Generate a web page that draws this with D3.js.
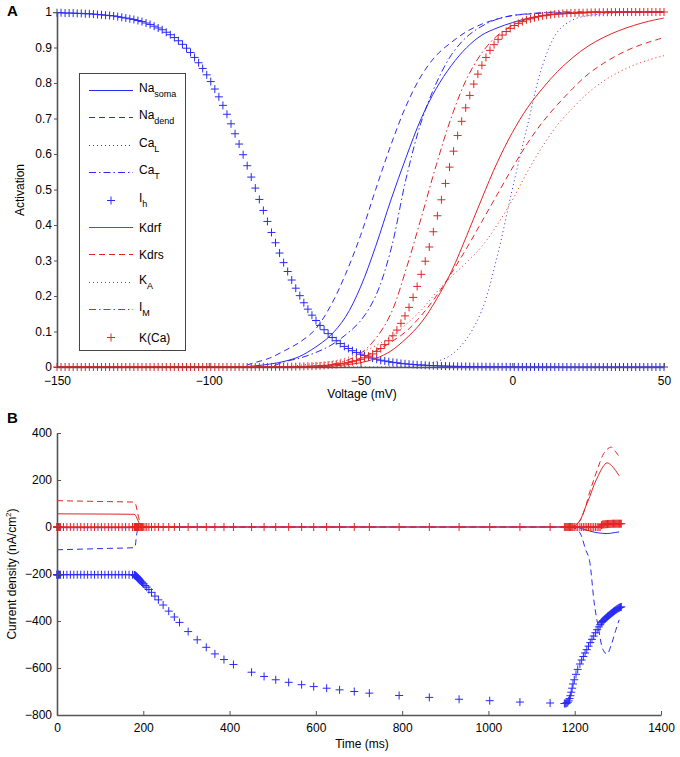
<!DOCTYPE html>
<html><head><meta charset="utf-8">
<script src="https://cdn.jsdelivr.net/npm/d3@7"></script>
<style>body{margin:0;background:#fff}svg{display:block;font-family:"Liberation Sans",Arial,Helvetica,sans-serif}</style>
</head><body><svg id="c" width="680" height="757"></svg>
<script>
// ---------- Panel A data (activation vs voltage) ----------
const voltageLine = [-150,-145,-140,-135,-130,-125,-120,-115,-110,-105,-100,-95,-90,-85,-80,-75,-70,-65,-60,-55,-50,-45,-40,-35,-30,-25,-20,-15,-10,-5,0,5,10,15,20,25,30,35,40,45,50];
const naSomaA = [0,0,0,0,0,0,0,0,0,0,0,0,0,0.003,0.008,0.016,0.03,0.055,0.088,0.14,0.225,0.34,0.47,0.59,0.70,0.785,0.85,0.90,0.935,0.955,0.97,0.982,0.99,0.994,0.996,0.998,0.999,1,1,1,1];
const naDendA = [0,0,0,0,0,0,0,0,0,0,0,0,0,0.012,0.025,0.046,0.07,0.105,0.17,0.26,0.37,0.50,0.625,0.735,0.82,0.878,0.915,0.945,0.966,0.98,0.99,0.994,0.997,0.998,0.999,1,1,1,1,1,1];
const caLA = [0,0,0,0,0,0,0,0,0,0,0,0,0,0,0,0,0,0,0,0,0,0,0,0,0.005,0.015,0.035,0.08,0.16,0.31,0.50,0.68,0.85,0.945,0.978,0.99,0.995,0.998,0.999,1,1];
const caTA = [0,0,0,0,0,0,0,0,0,0,0,0,0,0,0,0.015,0.025,0.04,0.06,0.09,0.13,0.20,0.33,0.53,0.69,0.80,0.88,0.93,0.96,0.98,0.99,0.995,0.998,1,1,1,1,1,1,1,1];
const kdrfA = [0,0,0,0,0,0,0,0,0,0,0,0,0,0,0,0,0,0,0.002,0.006,0.012,0.024,0.045,0.08,0.125,0.19,0.27,0.37,0.475,0.575,0.66,0.73,0.785,0.833,0.872,0.904,0.928,0.947,0.962,0.974,0.983];
const kdrsA = [0,0,0,0,0,0,0,0,0,0,0,0,0,0,0,0,0,0,0.005,0.012,0.025,0.045,0.07,0.10,0.145,0.20,0.265,0.335,0.41,0.485,0.56,0.63,0.69,0.74,0.785,0.825,0.855,0.88,0.90,0.915,0.928];
const kAA = [0,0,0,0,0,0,0,0,0,0,0,0,0,0,0,0,0.005,0.01,0.015,0.025,0.04,0.06,0.085,0.12,0.16,0.21,0.255,0.295,0.34,0.40,0.47,0.55,0.622,0.683,0.73,0.772,0.805,0.83,0.85,0.865,0.877];
const iMA = [0,0,0,0,0,0,0,0,0,0,0,0,0,0,0,0,0,0.003,0.007,0.017,0.038,0.08,0.15,0.275,0.42,0.57,0.705,0.812,0.885,0.933,0.962,0.98,0.99,0.995,0.998,1,1,1,1,1,1];

// marker series sampled on an evenly spaced voltage grid (151 samples, -150..50 mV)
const markerVoltages = d3.range(151).map(i => -150 + i * 200 / 150);
const ihA = [0.998,0.998,0.997,0.997,0.997,0.996,0.996,0.995,0.995,0.994,
 0.993,0.992,0.991,0.990,0.989,0.987,0.985,0.983,0.981,0.979,
 0.976,0.973,0.969,0.965,0.960,0.955,0.950,0.943,0.936,0.928,
 0.919,0.909,0.898,0.886,0.872,0.857,0.841,0.823,0.804,0.783,
 0.761,0.737,0.712,0.685,0.657,0.628,0.598,0.567,0.535,0.504,
 0.472,0.441,0.410,0.379,0.350,0.321,0.294,0.269,0.245,0.222,
 0.201,0.181,0.163,0.146,0.131,0.117,0.105,0.094,0.083,0.074,
 0.066,0.058,0.052,0.046,0.041,0.036,0.032,0.028,0.025,0.022,
 0.019,0.017,0.015,0.013,0.012,0.010,0.009,0.008,0.007,0.006,
 0.0055,0.005,0.004,0.0037,0.0032,0.0028,0.0025,0.0022,0.0019,0.0017,
 0.0015,0.0013,0.0011,0.0010,0.0009,0.0008,0.0007,0.0006,0.0005,0.0005,
 0.0004,0.0004,0.0003,0.0003,0.0003,0.0002,0.0002,0.0002,0.0002,0.0001,
 0.0001,0.0001,0.0001,0.0001,0,0,0,0,0,0,
 0,0,0,0,0,0,0,0,0,0,
 0,0,0,0,0,0,0,0,0,0,0];
const kCaA = [0,0,0,0,0,0,0,0,0,0,
 0,0,0,0,0,0,0,0,0,0,
 0,0,0,0,0,0,0,0,0,0,
 0,0,0,0,0,0,0,0,0,0,
 0,0,0,0,0,0,0,0,0,0,
 0.0002,0.0002,0.0003,0.0003,0.0004,0.0005,0.0006,0.0008,0.0009,0.0011,
 0.0014,0.0016,0.002,0.0024,0.0029,0.0034,0.0041,0.005,0.006,0.0072,
 0.0086,0.0104,0.0124,0.0149,0.0179,0.0215,0.0257,0.0308,0.0368,0.044,
 0.052,0.063,0.074,0.088,0.104,0.123,0.144,0.168,0.196,0.227,
 0.261,0.298,0.338,0.381,0.426,0.471,0.517,0.563,0.608,0.652,
 0.692,0.730,0.765,0.797,0.825,0.850,0.872,0.892,0.908,0.923,
 0.935,0.945,0.954,0.962,0.968,0.973,0.978,0.981,0.984,0.987,
 0.989,0.991,0.9925,0.994,0.995,0.996,0.9965,0.997,0.9975,0.998,
 0.998,0.9985,0.9988,0.999,0.999,0.9993,0.9994,0.9995,0.9996,0.9997,
 0.9997,0.9998,0.9998,0.9998,0.9999,0.9999,0.9999,0.9999,1,1,1];

const voltageTicks = [-150,-100,-50,0,50];
const activationTicks = [0,0.1,0.2,0.3,0.4,0.5,0.6,0.7,0.8,0.9,1];

// ---------- Panel B data (current density vs time) ----------
const timeLine = [0,60,120,178,181,184,187,190,195,200,600,1000,1185,1195,1205,1215,1225,1235,1245,1255,1265,1275,1285,1295,1303];
const naSomaB = [-3,-3,-3,-3,-3,-2,-1,0,0,0,0,0,0,0,-1,-6,-12,-17,-22,-25,-27,-28,-26,-23,-21];
const naDendB = [-97,-94,-91,-88,-85,-40,-10,-2,0,0,0,0,0,-2,-10,-35,-95,-150,-320,-430,-520,-540,-500,-440,-395];
const kdrfB = [56,55.5,55,54,53,42,30,18,5,0,0,0,0,2,12,38,85,130,180,220,255,273,262,240,218];
const kdrsB = [112,110,108,106,104,85,60,35,10,0,0,0,0,3,12,35,85,150,205,258,305,330,340,320,300];

const timeMarkers = [0,0.3,0.6,1,1.5,2,3,4,6,8,
 15,23,31,39,47,55,63,71,79,87,95,103,111,119,127,135,143,151,159,167,175,
 179,180,181,182,183,184,185,186,187,188,189,190,192,194,196,198,200,
 204,208,213,219,227,235,246,259,272,284,304,325,346,366,387,409,451,480,507,537,567,595,625,655,689,724,793,863,932,1003,1073,1143,
 1176,1178,1180,1182,1184,1186,1188,1190,1192,1194,1196,1199,1203,1207,1212,1216,1220,1224,1228,1232,1236,1240,1244,1248,1252,1256,1259,
 1262,1264,1266,1268,1270,1272,1274,1276,1278,1280,1282,1284,1286,1288,1290,1292,1294,1296,1298,1300,1302,1304,1306,1308];
const ihB = [-203,-203,-203,-203,-203,-203,-203,-203,-203,-203,
 -203,-203,-203,-203,-203,-203,-203,-203,-203,-203,-203,-203,-203,-203,-203,-203,-203,-203,-203,-203,-203,
 -204,-205,-206,-207,-209,-210,-212,-214,-216,-218,-220,-222,-226,-230,-234,-238,-242,
 -249,-256,-266,-278,-294,-310,-332,-358,-383,-406,-445,-480,-512,-540,-564,-585,-618,-636,-650,-661,-671,-679,-686,-693,-700,-707,-717,-725,-733,-739,-745,-749,
 -751,-751,-750,-749,-746,-740,-730,-718,-703,-686,-668,-650,-627,-606,-583,-566,-551,-536,-522,-507,-492,-478,-464,-450,-437,-425,-416,
 -406,-402,-398,-395,-391,-388,-385,-381,-378,-375,-372,-369,-366,-363,-360,-357,-354,-352,-349,-347,-345,-343,-341,-340];
const kCaB = [0,0,0,0,0,0,0,0,0,0,
 0,0,0,0,0,0,0,0,0,0,0,0,0,0,0,0,0,0,0,0,0,
 0,0,0,0,0,0,0,0,0,0,0,0,0,0,0,0,0,
 0,0,0,0,0,0,0,0,0,0,0,0,0,0,0,0,0,0,0,0,0,0,0,0,0,0,0,0,0,0,0,0,
 0,0,0,0,0,0,0,0,0,0,0,0,0,0,0,0,0,0,0,0,0,0,0,0,0,0,0,
 8,10,11,11,12,12,12,13,13,13,13,13,14,14,14,14,14,14,14,14,14,14,14,14];

const timeTicks = [0,200,400,600,800,1000,1200,1400];
const currentTicks = [-800,-600,-400,-200,0,200,400];

const legendItems = [
  {label:"Na", sub:"soma", color:"blue", kind:"line", dash:"solid"},
  {label:"Na", sub:"dend", color:"blue", kind:"line", dash:"dashed"},
  {label:"Ca", sub:"L", color:"blue", kind:"line", dash:"dotted"},
  {label:"Ca", sub:"T", color:"blue", kind:"line", dash:"dashdot"},
  {label:"I", sub:"h", color:"blue", kind:"marker"},
  {label:"Kdrf", sub:"", color:"red", kind:"line", dash:"solid"},
  {label:"Kdrs", sub:"", color:"red", kind:"line", dash:"dashed"},
  {label:"K", sub:"A", color:"red", kind:"line", dash:"dotted"},
  {label:"I", sub:"M", color:"red", kind:"line", dash:"dashdot"},
  {label:"K(Ca)", sub:"", color:"red", kind:"marker"}
];

// ---------- drawing ----------
const COLORS = {blue:"#2a2af5", red:"#e42424"};
const DASH = {solid:null, dashed:"6,4", dotted:"1,3", dashdot:"7,3,1.5,3"};
const AXIS = "#555";
const svg = d3.select("#c");
const minusFmt = d => d < 0 ? "\u2212" + Math.abs(d) : String(d);

function drawLine(g, xs, ys, x, y, color, dash, curve) {
  const data = xs.map((v, i) => [v, ys[i]]);
  g.append("path").datum(data)
    .attr("d", d3.line().x(d => x(d[0])).y(d => y(d[1])).curve(curve || d3.curveMonotoneX))
    .attr("fill", "none").attr("stroke", COLORS[color]).attr("stroke-width", 1)
    .attr("stroke-dasharray", DASH[dash]);
}
function drawMarkers(g, xs, ys, x, y, color) {
  let p = "";
  xs.forEach((v, i) => {
    const cx = x(v), cy = y(ys[i]);
    p += `M${cx - 4},${cy}H${cx + 4}M${cx},${cy - 4}V${cy + 4}`;
  });
  g.append("path").attr("d", p).attr("fill", "none")
    .attr("stroke", COLORS[color]).attr("stroke-width", 1);
}
function styleAxis(sel) {
  sel.select(".domain").attr("stroke", AXIS).attr("stroke-width", 1.6);
  sel.selectAll(".tick line").attr("stroke", AXIS).attr("stroke-width", 1);
  sel.selectAll(".tick text").attr("fill", "#000").attr("font-size", 12)
    .attr("font-family", '"Liberation Sans",Arial,sans-serif');
}

// Panel A
const xA = d3.scaleLinear().domain([-150, 50]).range([57, 664]);
const yA = d3.scaleLinear().domain([0, 1]).range([367, 12]);
const gA = svg.append("g");
const smooth = d3.curveCatmullRom.alpha(0.5);

drawLine(gA, voltageLine, naSomaA, xA, yA, "blue", "solid", smooth);
drawLine(gA, voltageLine, naDendA, xA, yA, "blue", "dashed", smooth);
drawLine(gA, voltageLine, caLA, xA, yA, "blue", "dotted", smooth);
drawLine(gA, voltageLine, caTA, xA, yA, "blue", "dashdot", smooth);
drawMarkers(gA, markerVoltages, ihA, xA, yA, "blue");
drawLine(gA, voltageLine, kdrfA, xA, yA, "red", "solid", smooth);
drawLine(gA, voltageLine, kdrsA, xA, yA, "red", "dashed", smooth);
drawLine(gA, voltageLine, kAA, xA, yA, "red", "dotted", smooth);
drawLine(gA, voltageLine, iMA, xA, yA, "red", "dashdot", smooth);
drawMarkers(gA, markerVoltages, kCaA, xA, yA, "red");

gA.append("g").attr("transform", "translate(0,367)")
  .call(d3.axisBottom(xA).tickValues(voltageTicks).tickSizeInner(-4).tickSizeOuter(0).tickPadding(9).tickFormat(minusFmt))
  .call(styleAxis);
gA.append("g").attr("transform", "translate(57,0)")
  .call(d3.axisLeft(yA).tickValues(activationTicks).tickSizeInner(3).tickSizeOuter(0).tickPadding(2)
    .tickFormat(d => d === 0 ? "0" : d === 1 ? "1" : d.toFixed(1)))
  .call(styleAxis);

svg.append("text").attr("x", 362).attr("y", 398).attr("text-anchor", "middle")
  .attr("font-size", 12).text("Voltage (mV)");
svg.append("text").attr("transform", "translate(24,190) rotate(-90)").attr("text-anchor", "middle")
  .attr("font-size", 12).text("Activation");
svg.append("text").attr("x", 7).attr("y", 16).attr("font-size", 15).attr("font-weight", "bold").text("A");

// Legend
const leg = svg.append("g");
leg.append("rect").attr("x", 79.5).attr("y", 73.5).attr("width", 106).attr("height", 277)
  .attr("fill", "#fff").attr("stroke", "#444").attr("stroke-width", 1);
legendItems.forEach((it, i) => {
  const ry = Math.round(90 + i * 27.4) + 0.5;
  if (it.kind === "line") {
    leg.append("line").attr("x1", 89).attr("x2", 133).attr("y1", ry).attr("y2", ry)
      .attr("stroke", COLORS[it.color]).attr("stroke-width", 1).attr("stroke-dasharray", DASH[it.dash]);
  } else {
    leg.append("path").attr("d", `M107,${ry}H115M111,${ry - 4}V${ry + 4}`)
      .attr("stroke", COLORS[it.color]).attr("stroke-width", 1).attr("fill", "none");
  }
  const t = leg.append("text").attr("x", 139).attr("font-size", 12);
  if (it.sub) {
    t.attr("y", ry + 1.5).text(it.label);
    t.append("tspan").attr("dy", 4.5).attr("font-size", 9).text(it.sub);
  } else {
    t.attr("y", ry + 4.5).text(it.label);
  }
});

// Panel B
const xB = d3.scaleLinear().domain([0, 1400]).range([57, 661]);
const yB = d3.scaleLinear().domain([-800, 400]).range([715, 433]);
const gB = svg.append("g");

drawLine(gB, timeLine, naSomaB, xB, yB, "blue", "solid");
drawLine(gB, timeLine, naDendB, xB, yB, "blue", "dashed");
drawMarkers(gB, timeMarkers, ihB, xB, yB, "blue");
drawLine(gB, timeLine, kdrfB, xB, yB, "red", "solid");
drawLine(gB, timeLine, kdrsB, xB, yB, "red", "dashed");
drawMarkers(gB, timeMarkers, kCaB, xB, yB, "red");

gB.append("g").attr("transform", "translate(0,715)")
  .call(d3.axisBottom(xB).tickValues(timeTicks).tickSizeInner(-4).tickSizeOuter(0).tickPadding(8).tickFormat(d => String(d)))
  .call(styleAxis);
gB.append("g").attr("transform", "translate(57,0)")
  .call(d3.axisLeft(yB).tickValues(currentTicks).tickSizeInner(-4).tickSizeOuter(0).tickPadding(5).tickFormat(minusFmt))
  .call(styleAxis);

svg.append("text").attr("x", 362).attr("y", 748).attr("text-anchor", "middle")
  .attr("font-size", 12).text("Time (ms)");
const yl = svg.append("text").attr("transform", "translate(16,574) rotate(-90)").attr("text-anchor", "middle")
  .attr("font-size", 12).text("Current density (nA/cm");
yl.append("tspan").attr("dy", -5).attr("font-size", 8).text("2");
yl.append("tspan").attr("dy", 5).text(")");
svg.append("text").attr("x", 7).attr("y", 423).attr("font-size", 15).attr("font-weight", "bold").text("B");
</script></body></html>
